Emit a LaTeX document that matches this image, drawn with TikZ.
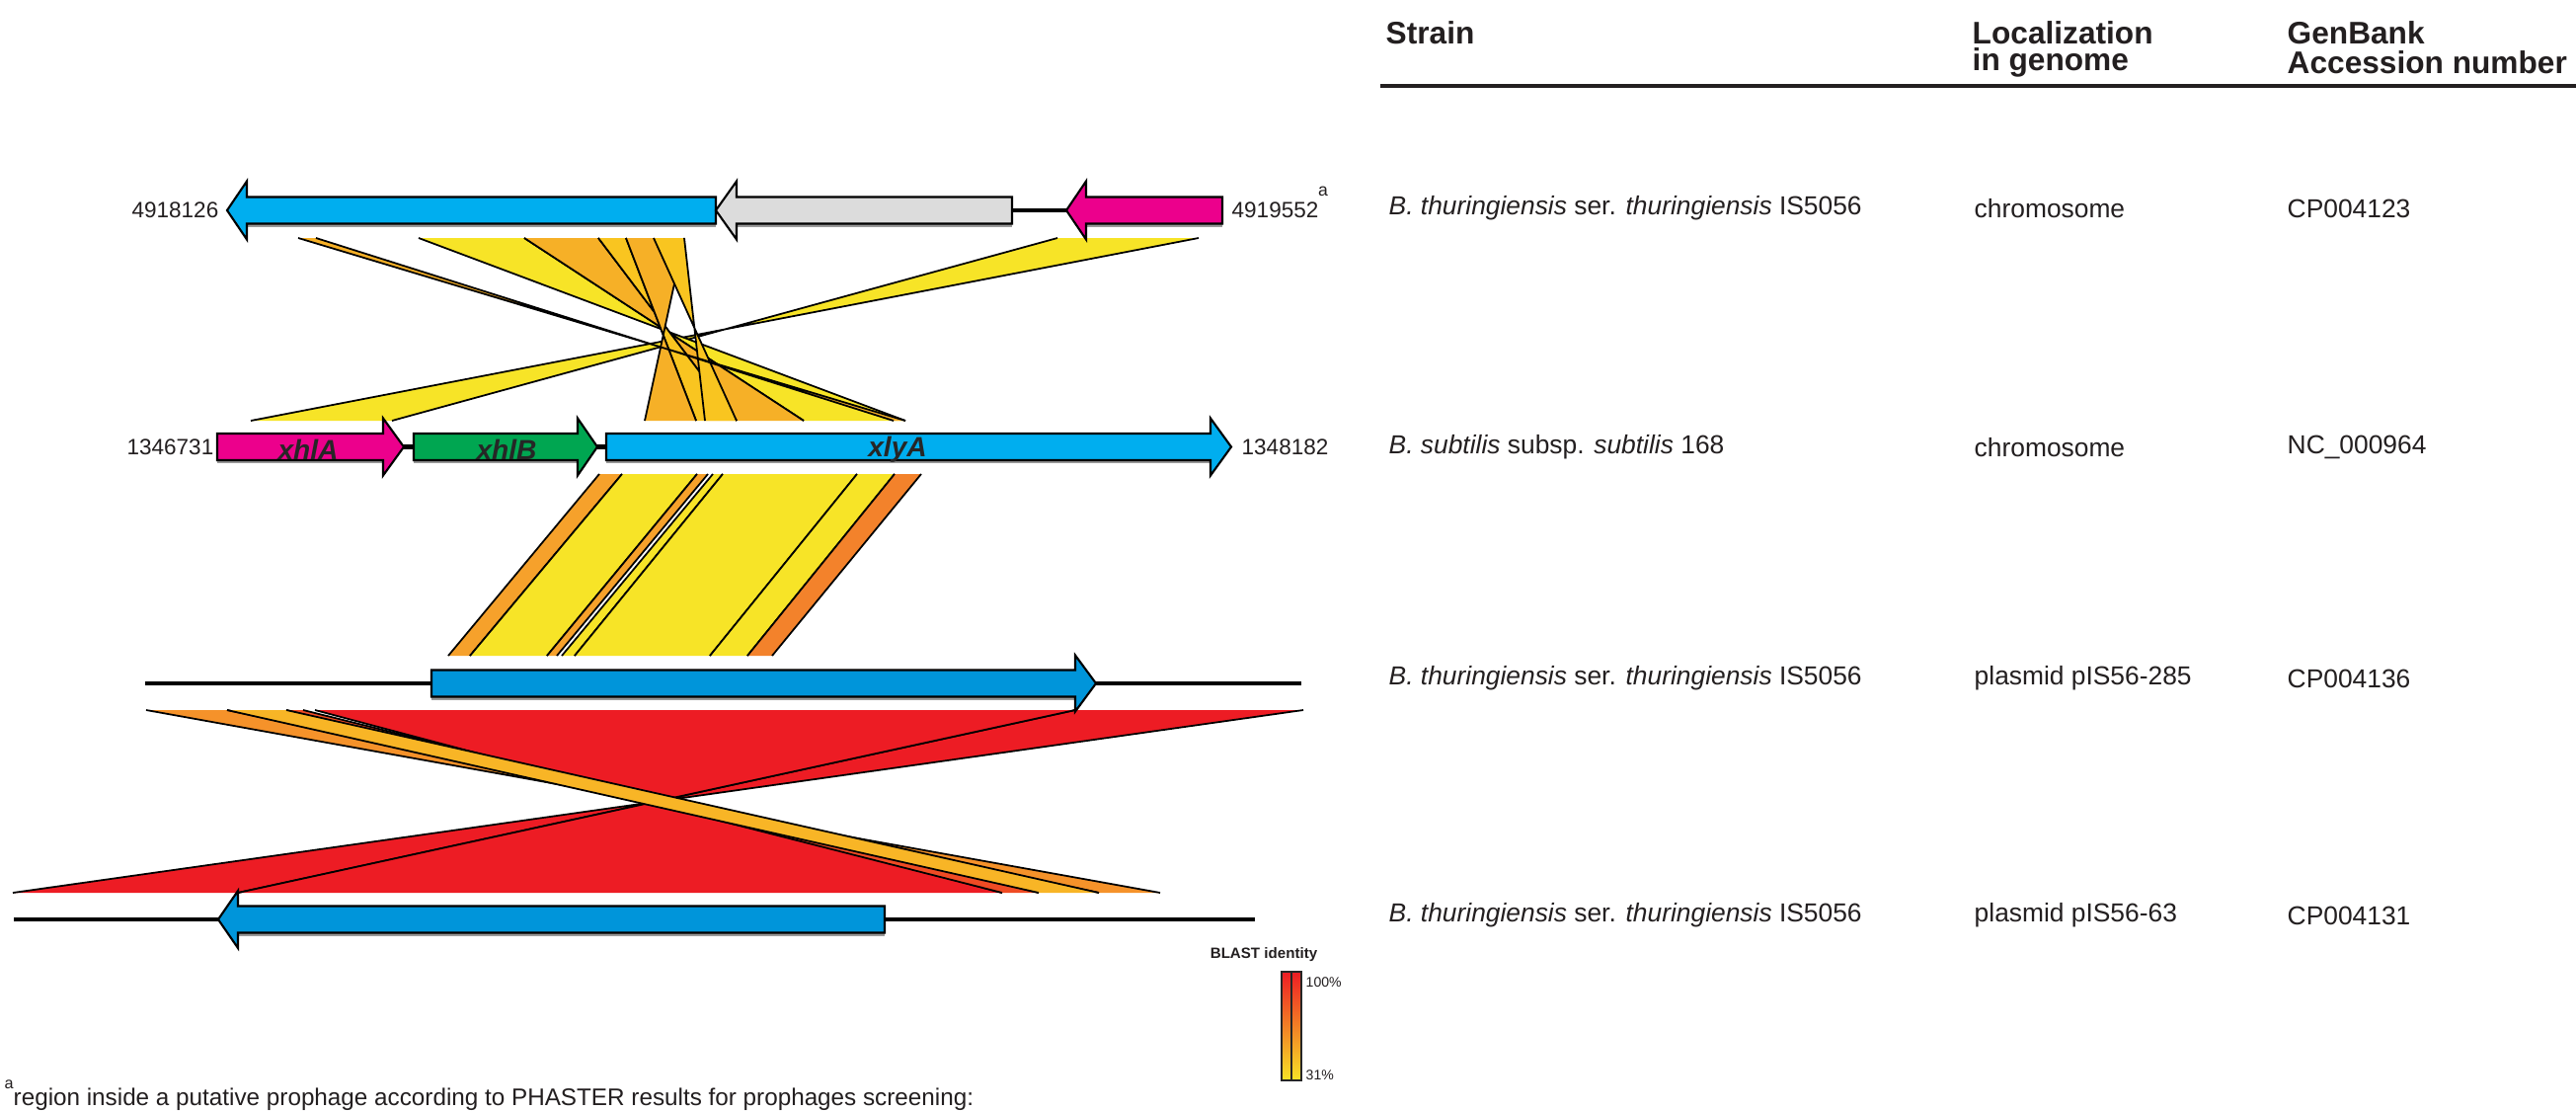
\documentclass[tikz,border=0pt]{standalone}
\usepackage{fontspec}
\setmainfont{Liberation Sans}
\definecolor{geneblue}{HTML}{00AEEF}
\definecolor{pisblue}{HTML}{0095DA}
\definecolor{genegrey}{HTML}{DCDCDC}
\definecolor{genemag}{HTML}{EC008C}
\definecolor{genegreen}{HTML}{00A651}
\definecolor{byel}{HTML}{F7E427}
\definecolor{byelor}{HTML}{F9C520}
\definecolor{borng}{HTML}{F6B027}
\definecolor{borngB}{HTML}{F6A12B}
\definecolor{bdorng}{HTML}{F3822B}
\definecolor{borngC}{HTML}{F5922A}
\definecolor{byelorC}{HTML}{F8B526}
\definecolor{bredor}{HTML}{EF4B24}
\definecolor{bred}{HTML}{ED1C24}
\definecolor{txt}{HTML}{231F20}
\tikzset{
  bandedge/.style={draw=black, line width=0.5pt, line join=round},
  track/.style={draw=black, line width=1.4pt},
  gene/.style={draw=black, line width=0.6pt, line join=miter},
  gshadow/.style={draw=black!40, line width=0.7pt},
  coord/.style={inner sep=0pt, text=txt, font=\fontsize{6.4}{7}\selectfont},
  genename/.style={inner sep=0pt, text=black!85, font=\fontsize{8}{9}\selectfont\bfseries\itshape},
  hdr/.style={inner sep=0pt, anchor=west, text=txt, font=\fontsize{9}{10}\selectfont\bfseries},
  cell/.style={inner sep=0pt, anchor=west, text=txt, font=\fontsize{7.5}{9}\selectfont},
  legend/.style={inner sep=0pt, text=txt},
}
% band: color, ytop, ybot, a(top), b(top), c(bottom end of a), d(bottom end of b)
\newcommand\mkband[7]{%
  \fill[#1] (#4,#2) -- (#5,#2) -- (#7,#3) -- (#6,#3) -- cycle;
  \draw[bandedge] (#4,#2) -- (#6,#3) (#5,#2) -- (#7,#3);
}
% right-pointing gene: color, left, headbase, tip, yc, head half height
\newcommand\geneR[6]{%
  \draw[gshadow] (#2,#5+15.5) -- (#3,#5+15.5);
  \filldraw[gene, fill=#1] (#2,#5-13.5) -- (#3,#5-13.5) -- (#3,#5-#6) -- (#4,#5)
    -- (#3,#5+#6) -- (#3,#5+13.5) -- (#2,#5+13.5) -- cycle;
}
% left-pointing gene: color, tip, headbase, right, yc, head half height
\newcommand\geneL[6]{%
  \draw[gshadow] (#3,#5+15.5) -- (#4,#5+15.5);
  \filldraw[gene, fill=#1] (#2,#5) -- (#3,#5-#6) -- (#3,#5-13.5) -- (#4,#5-13.5)
    -- (#4,#5+13.5) -- (#3,#5+13.5) -- (#3,#5+#6) -- cycle;
}
\begin{document}
\begin{tikzpicture}[x=0.01cm, y=-0.01cm]
\useasboundingbox (0,0) rectangle (2609,1124);
\fill[white] (0,0) rectangle (2609,1124);

% ---------- region 1 bands (top track vs xhl track) ----------
\mkband{byel}{241}{426}{1071}{1214}{397}{254}
\mkband{byel}{241}{426}{424}{531}{917}{814}
\mkband{borng}{241}{426}{531}{606}{814}{746}
\mkband{byelor}{241}{426}{606}{634}{746}{705}
\mkband{borng}{241}{426}{634}{693}{705}{653}
\mkband{byelor}{241}{426}{662}{693}{746}{714}
\mkband{borng}{241}{426}{302}{320}{917}{905}

% ---------- region 2 bands (xhl track vs pIS56-285) ----------
\mkband{borngB}{480}{664}{607}{630}{454}{476}
\mkband{byel}{480}{664}{630}{706}{476}{554}
\mkband{borngB}{480}{664}{706}{717}{554}{564}
\mkband{byel}{480}{664}{722}{732}{569}{582}
\mkband{byel}{480}{664}{732}{868}{582}{719}
\mkband{byel}{480}{664}{868}{906}{719}{757}
\mkband{bdorng}{480}{664}{906}{933}{757}{782}

% ---------- region 3 bands (pIS56-285 vs pIS56-63) ----------
\mkband{bred}{719}{904}{1089}{1320}{241}{13}
\mkband{bred}{719}{904}{319}{1089}{1015}{241}
\mkband{borngC}{719}{904}{148}{230}{1175}{1113}
\mkband{bredor}{719}{904}{290}{307}{1015}{1052}
\mkband{byelorC}{719}{904}{230}{290}{1052}{1113}

% ---------- track 1: B. thuringiensis chromosome ----------
\draw[track] (1020,213) -- (1085,213);
\geneL{geneblue}{230}{250}{725}{213}{29.5}
\geneL{genegrey}{725}{746}{1025}{213}{29.5}
\geneL{genemag}{1080}{1100}{1238}{213}{29.5}
\node[coord, anchor=east] (c1l) at (222,213) {4918126};
\node[coord, anchor=west] (c1r) at (1247,213) {4919552};
\node[coord, anchor=center, font=\fontsize{5}{5}\selectfont] (c1a) at (1340,194) {a};

% ---------- track 2: B. subtilis ----------
\draw[track] (400,452.5) -- (620,452.5);
\geneR{genemag}{220}{388}{409}{452.5}{29}
\geneR{genegreen}{419}{585}{605}{452.5}{29}
\geneR{geneblue}{614}{1226}{1247}{452.5}{29}
\node[coord, anchor=east] (c2l) at (217,453) {1346731};
\node[coord, anchor=west] (c2r) at (1257,453) {1348182};
\node[genename] (gA) at (312,455) {xhlA};
\node[genename] (gB) at (513,455) {xhlB};
\node[genename] (gC) at (909,455) {xlyA};

% ---------- track 3: pIS56-285 ----------
\draw[track] (147,692) -- (1318,692);
\geneR{pisblue}{437}{1089}{1110}{692}{28.5}

% ---------- track 4: pIS56-63 ----------
\draw[track] (14,931) -- (1271,931);
\geneL{pisblue}{221}{241}{896}{931}{29}

% ---------- legend ----------
\node[legend, font=\fontsize{4.3}{5}\selectfont\bfseries] (lgt) at (1280,967) {BLAST identity};
\shade[top color=bred, middle color=borngC, bottom color=byel] (1298,984) rectangle (1318,1094);
\draw[black!85, line width=0.4pt] (1298,984) rectangle (1318,1094) (1308,984) -- (1308,1094);
\node[legend, anchor=west, font=\fontsize{4}{5}\selectfont] (lg1) at (1322,995) {100\%};
\node[legend, anchor=west, font=\fontsize{4}{5}\selectfont] (lg2) at (1322,1089) {31\%};

% ---------- footnote ----------
\node[legend, font=\fontsize{4.6}{5}\selectfont] (fna) at (9,1098) {a};
\node[legend, anchor=west, font=\fontsize{6.9}{8}\selectfont] (fnt) at (13,1113) {region inside a putative prophage according to PHASTER results for prophages screening:};

% ---------- table ----------
\node[hdr] (h1) at (1403,33) {Strain};
\node[hdr] (h2a) at (1997,33) {Localization};
\node[hdr] (h2b) at (1997,63) {in genome};
\node[hdr] (h3a) at (2316,33) {GenBank};
\node[hdr] (h3b) at (2316,63) {Accession number};
\draw[line width=1.4pt, txt] (1398,87) -- (2609,87);

\node[cell] (r1a) at (1406,211) {\textit{B. thuringiensis} ser. \textit{thuringiensis} IS5056};
\node[cell] (r1b) at (1999,211) {chromosome};
\node[cell] (r1c) at (2316,211) {CP004123};
\node[cell] (r2a) at (1406,453) {\textit{B. subtilis} subsp. \textit{subtilis} 168};
\node[cell] (r2b) at (1999,453) {chromosome};
\node[cell] (r2c) at (2316,453) {NC\_000964};
\node[cell] (r3a) at (1406,687) {\textit{B. thuringiensis} ser. \textit{thuringiensis} IS5056};
\node[cell] (r3b) at (1999,687) {plasmid pIS56-285};
\node[cell] (r3c) at (2316,687) {CP004136};
\node[cell] (r4a) at (1406,927) {\textit{B. thuringiensis} ser. \textit{thuringiensis} IS5056};
\node[cell] (r4b) at (1999,927) {plasmid pIS56-63};
\node[cell] (r4c) at (2316,927) {CP004131};
\end{tikzpicture}
\end{document}
